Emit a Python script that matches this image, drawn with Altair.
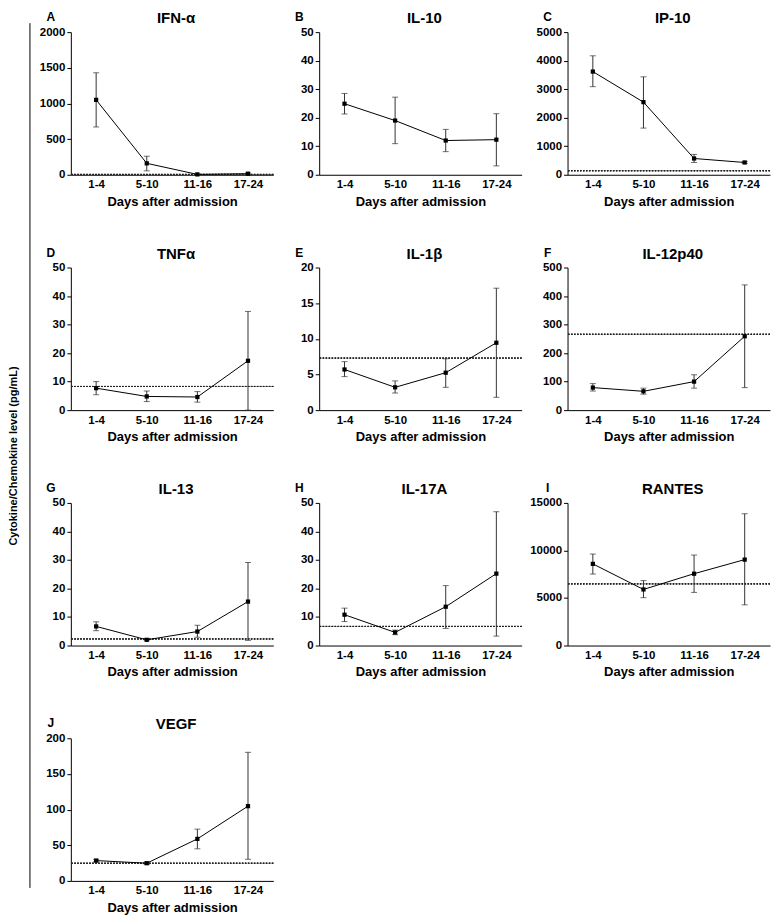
import altair as alt
import pandas as pd

FONT = "Liberation Sans"

days = ["1-4", "5-10", "11-16", "17-24"]

names = ["IFN-α", "IL-10", "IP-10", "TNFα", "IL-1β", "IL-12p40", "IL-13", "IL-17A", "RANTES", "VEGF"]
letters = ["A", "B", "C", "D", "E", "F", "G", "H", "I", "J"]

means = [
    [1050, 160, 5, 15],
    [24.9, 19.0, 12.0, 12.3],
    [3617, 2546, 570, 430],
    [7.7, 4.8, 4.6, 17.3],
    [5.7, 3.2, 5.25, 9.45],
    [79, 66, 100, 259],
    [6.7, 2.0, 4.9, 15.4],
    [10.8, 4.6, 13.6, 25.2],
    [8586, 5897, 7552, 9034],
    [28.5, 24.8, 58.9, 104.8],
]
lows = [
    [670, 55, 0, 5],
    [21.3, 10.9, 8.1, 3.1],
    [3088, 1636, 430, 400],
    [5.4, 3.0, 2.8, 0],
    [4.7, 2.4, 3.2, 1.8],
    [67, 56, 77, 79],
    [5.2, 1.7, 2.9, 1.8],
    [8.4, 3.8, 6.0, 3.3],
    [7517, 5034, 5586, 4276],
    [26.7, 23.0, 45.0, 30.3],
]
highs = [
    [1430, 260, 10, 25],
    [28.5, 27.2, 15.9, 21.4],
    [4170, 3433, 714, 470],
    [10.0, 6.7, 6.5, 34.6],
    [6.8, 4.1, 7.2, 17.1],
    [93, 77, 124, 439],
    [8.3, 2.3, 7.1, 29.1],
    [13.1, 5.4, 21.0, 46.9],
    [9620, 6828, 9517, 13862],
    [30.3, 26.7, 72.6, 180.3],
]
ref_levels = [5, None, 140, 8.3, 7.3, 266, 2.3, 6.7, 6483, 24.8]
y_max = [2000, 50, 5000, 50, 20, 500, 50, 50, 15000, 200]
y_ticks = [
    [0, 500, 1000, 1500, 2000],
    [0, 10, 20, 30, 40, 50],
    [0, 1000, 2000, 3000, 4000, 5000],
    [0, 10, 20, 30, 40, 50],
    [0, 5, 10, 15, 20],
    [0, 100, 200, 300, 400, 500],
    [0, 10, 20, 30, 40, 50],
    [0, 10, 20, 30, 40, 50],
    [0, 5000, 10000, 15000],
    [0, 50, 100, 150, 200],
]

x_title = "Days after admission"
y_title = "Cytokine/Chemokine level (pg/mL)"

W, H = 203, 143
COL_GAP, ROW_PITCH = 46, 236


def panel(i):
    df = pd.DataFrame({"day": days, "mean": means[i], "lo": lows[i], "hi": highs[i]})
    x = alt.X(
        "day:O",
        sort=days,
        scale=alt.Scale(type="point", domain=days, padding=0.5),
        axis=alt.Axis(title=x_title, labelAngle=0, ticks=False, labelPadding=4,
                      titlePadding=5, titleFontSize=13, labelFontSize=11.5),
    )
    yscale = alt.Scale(domain=[0, y_max[i]], nice=False, zero=True)
    yaxis = alt.Axis(title=None, values=y_ticks[i], format="d", tickSize=4,
                     labelPadding=2, labelOverlap=False, labelFontSize=11.5)
    y = alt.Y("mean:Q", scale=yscale, axis=yaxis)
    base = alt.Chart(df)
    rule = base.mark_rule(color="#333333", strokeWidth=1).encode(
        x=x, y=alt.Y("lo:Q", scale=yscale, axis=yaxis), y2="hi:Q")
    cap_lo = base.mark_tick(color="#333333", size=6, thickness=1).encode(
        x=x, y=alt.Y("lo:Q", scale=yscale, axis=yaxis))
    cap_hi = base.mark_tick(color="#333333", size=6, thickness=1).encode(
        x=x, y=alt.Y("hi:Q", scale=yscale, axis=yaxis))
    line = base.mark_line(color="black", strokeWidth=1).encode(x=x, y=y)
    pts = base.mark_square(color="black", size=18, opacity=1).encode(x=x, y=y)
    lab_df = pd.DataFrame({"letter": [letters[i]], "name": [names[i]]})
    letter = alt.Chart(lab_df).mark_text(
        font=FONT, fontWeight="bold", fontSize=12, align="center", baseline="middle",
        color="black"
    ).encode(text="letter:N", x=alt.value(-20), y=alt.value(-15))
    title = alt.Chart(lab_df).mark_text(
        font=FONT, fontWeight="bold", fontSize=15, align="center", baseline="middle",
        color="black"
    ).encode(text="name:N", x=alt.value(W / 2 + 4), y=alt.value(-14))
    layers = [line, rule, cap_lo, cap_hi, pts]
    if ref_levels[i] is not None:
        ref = base.mark_rule(color="#222222", strokeWidth=1, strokeDash=[1.5, 1.5]).encode(
            y=alt.datum(ref_levels[i], scale=yscale, axis=yaxis))
        layers = [ref] + layers
    layers += [letter, title]
    if i == 0:
        side_df = pd.DataFrame({"t": [y_title]})
        side_line = alt.Chart(side_df).mark_rule(color="black", strokeWidth=1).encode(
            x=alt.value(-41), y=alt.value(-9), y2=alt.value(858))
        side_text = alt.Chart(side_df).mark_text(
            font=FONT, fontWeight="bold", fontSize=11, angle=270, align="center",
            baseline="middle", color="black"
        ).encode(text="t:N", x=alt.value(-57), y=alt.value(425))
        layers += [side_line, side_text]
    return alt.layer(*layers).properties(width=W, height=H)


panels = [panel(i) for i in range(10)]
rows = [
    alt.hconcat(panels[0], panels[1], panels[2], spacing=COL_GAP, bounds="flush"),
    alt.hconcat(panels[3], panels[4], panels[5], spacing=COL_GAP, bounds="flush"),
    alt.hconcat(panels[6], panels[7], panels[8], spacing=COL_GAP, bounds="flush"),
    alt.hconcat(panels[9], spacing=COL_GAP, bounds="flush"),
]
chart = alt.vconcat(*rows, spacing=ROW_PITCH, bounds="flush").properties(
    padding={"left": 0, "top": 2, "right": 0, "bottom": 0}
).configure_view(stroke=None).configure_axis(
    labelFont=FONT, titleFont=FONT, labelFontWeight="bold", titleFontWeight="bold",
    labelColor="black", titleColor="black", domainColor="black", tickColor="black",
    grid=False, domainWidth=1,
)

chart.save("out.html", embed_options={"renderer": "svg", "actions": False})
